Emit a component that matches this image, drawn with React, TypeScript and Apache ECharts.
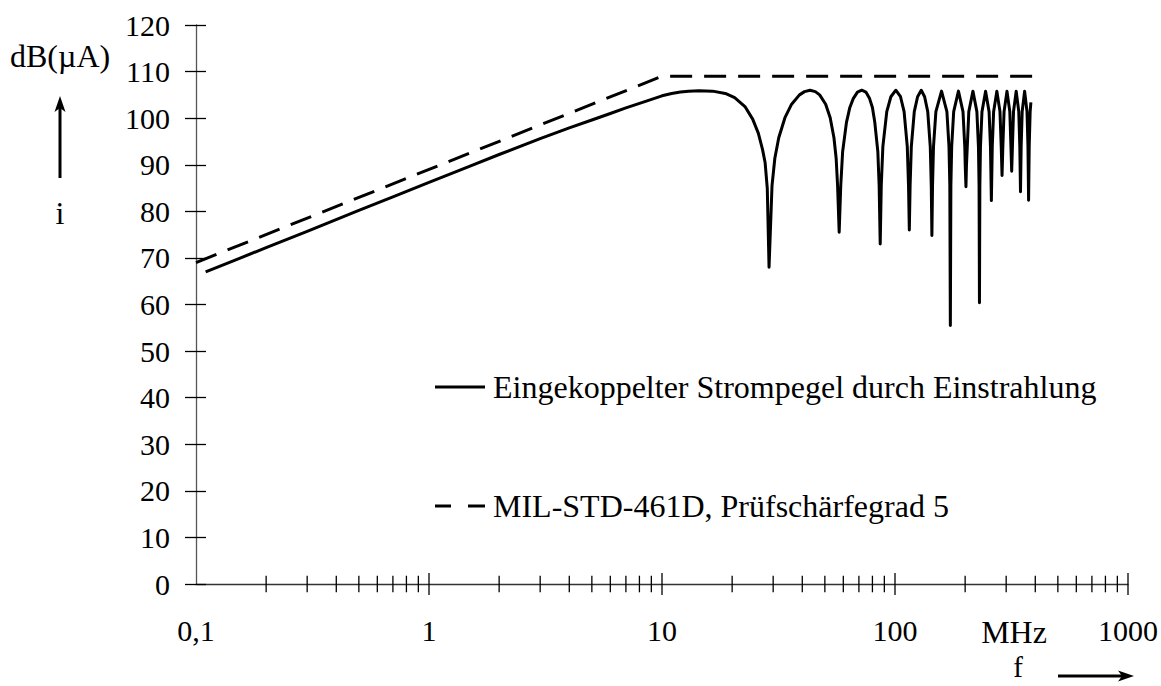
import React, { useEffect, useRef } from "react";
import * as echarts from "echarts";

// ---- data ----
const solidName = "Eingekoppelter Strompegel durch Einstrahlung";
const dashedName = "MIL-STD-461D, Prüfschärfegrad 5";

// frequency in MHz, level in dB(µA)
const solidData: [number, number][] = [
  [0.11, 67.0], [0.15, 69.7], [0.2, 72.2], [0.3, 75.7], [0.5, 80.2], [0.7, 83.1],
  [1, 86.2], [1.5, 89.7], [2, 92.2], [3, 95.6], [4, 97.9], [5, 99.6], [6, 101.0],
  [7, 102.2], [8.5, 103.6], [10, 104.8], [11, 105.3], [12, 105.6], [13, 105.8],
  [14.4, 105.9], [16.5, 105.8], [18.7, 105.3], [20.5, 104.4], [22.7, 102.5],
  [24.5, 99.8], [25.9, 96.8], [27, 93.3], [27.7, 90.5], [28.3, 85.0], [28.8, 68.0],
  // lobe 2
  [29.66, 85.5], [30.5, 91.4], [31.7, 95.8], [33.7, 100.1], [36.0, 103.0], [38.9, 105.0],
  [40.9, 105.7], [43.2, 106.0], [45.5, 105.7], [47.5, 105.0], [50.4, 103.0], [52.7, 100.1],
  [54.7, 95.8], [55.9, 91.4], [56.7, 85.5], [57.6, 75.5],
  // lobe 3
  [58.5, 85.5], [59.6, 92.8], [61.9, 99.1], [64.0, 102.3], [66.2, 104.2], [69.0, 105.6],
  [72.0, 106.0], [75.0, 105.6], [77.8, 104.2], [80.0, 102.3], [81.9, 99.1], [84.4, 92.8],
  [85.5, 85.5], [86.4, 73.0],
  // lobe 4
  [87.3, 85.5], [88.7, 93.9], [92.2, 101.4], [96.0, 104.6], [100.8, 106.0], [105.6, 104.6],
  [109.4, 101.4], [112.9, 93.9], [114.3, 85.5], [115.2, 76.0],
  // lobe 5
  [116.1, 85.5], [117.5, 93.9], [121.0, 101.4], [125.0, 104.6], [129.6, 106.0], [134.0, 104.6],
  [138.2, 101.4], [141.7, 93.9], [143.1, 85.5], [144.0, 74.8],
  // lobe 6
  [144.9, 85.5], [146.3, 93.9], [149.8, 101.4], [158.4, 105.8], [167.0, 101.4], [170.5, 93.9],
  [171.9, 85.5], [172.8, 55.5],
  // lobe 7
  [173.7, 85.5], [175.1, 93.9], [178.6, 101.4], [187.2, 105.8], [195.8, 101.4], [199.3, 93.9],
  [200.2, 89.8], [201.6, 85.3],
  // lobe 8
  [202.6, 89.8], [207.4, 101.4], [216.0, 105.8], [224.6, 101.4], [228.1, 93.9], [229.5, 85.5],
  [230.4, 60.4],
  // lobe 9
  [231.3, 85.5], [232.7, 93.9], [236.2, 101.4], [244.8, 105.8], [253.4, 101.4], [256.9, 93.9],
  [259.2, 82.3],
  // lobe 10
  [261.5, 93.9], [265.0, 101.4], [273.6, 105.8], [282.2, 101.4], [285.7, 93.9], [288.0, 87.7],
  // lobe 11
  [290.3, 93.9], [293.8, 101.4], [302.4, 105.8], [311.0, 101.4], [314.5, 93.9], [316.8, 88.6],
  // lobe 12
  [319.1, 93.9], [322.6, 101.4], [331.2, 105.8], [339.8, 101.4], [343.3, 93.9], [345.6, 84.2],
  // lobe 13
  [347.9, 93.9], [351.4, 101.4], [360.0, 105.8], [368.6, 101.4], [372.1, 93.9], [374.4, 82.4],
  // end
  [376.7, 93.9], [380.2, 101.4], [383.0, 103.4],
];

const dashedData: [number, number][] = [
  [0.1, 69], [10, 109], [400, 109],
];

const xMinorTicks = [
  0.2, 0.3, 0.4, 0.5, 0.6, 0.7, 0.8, 0.9,
  2, 3, 4, 5, 6, 7, 8, 9,
  20, 30, 40, 50, 60, 70, 80, 90,
  200, 300, 400, 500, 600, 700, 800, 900,
];
const xMajorTicks = [1, 10, 100, 1000];
const xUnitLabel = "MHz";
const yUnitLabel = "dB(µA)";
const ySymbol = "i";
const xSymbol = "f";

const FONT = '"Liberation Serif", "Times New Roman", serif';

export default function App() {
  const ref = useRef<HTMLDivElement>(null);

  useEffect(() => {
    if (!ref.current) return;
    const chart = echarts.init(ref.current, undefined, { renderer: "svg" });

    const tickSeries = (values: number[], half: number) => ({
      type: "custom",
      silent: true,
      clip: false,
      xAxisIndex: 0,
      yAxisIndex: 0,
      data: values.map((v) => [v, 0]),
      renderItem: (params: any, api: any) => {
        const p = api.coord([api.value(0), 0]);
        return {
          type: "line",
          shape: { x1: p[0], y1: p[1] - half, x2: p[0], y2: p[1] + half },
          style: { stroke: "#000", lineWidth: 1.3 },
        };
      },
      z: 3,
    });

    const legendBase = {
      left: 435,
      padding: 0,
      itemWidth: 50,
      itemHeight: 3,
      itemGap: 0,
      selectedMode: false,
      textStyle: { fontFamily: FONT, fontSize: 32, color: "#000", padding: [0, 0, 0, 3] },
    };

    const option: any = {
      animation: false,
      backgroundColor: "#fff",
      grid: { left: 196, right: 30, top: 25, bottom: 102 },
      xAxis: {
        type: "log",
        logBase: 10,
        min: 0.1,
        max: 1000,
        axisLine: { show: true, lineStyle: { color: "#333", width: 1.3 } },
        axisTick: { show: false },
        splitLine: { show: false },
        minorTick: { show: false },
        axisLabel: {
          show: true,
          margin: 31,
          color: "#000",
          fontFamily: FONT,
          fontSize: 30,
          showMinLabel: true,
          showMaxLabel: true,
          formatter: (v: number) => (v < 0.5 ? "0,1" : String(Math.round(v))),
        },
      },
      yAxis: [
        {
          type: "value",
          min: 0,
          max: 120,
          interval: 10,
          position: "left",
          offset: 0,
          axisLine: { show: true, lineStyle: { color: "#555", width: 1.3 } },
          axisTick: { show: true, inside: false, length: 11, lineStyle: { color: "#000", width: 1.3 } },
          splitLine: { show: false },
          axisLabel: { margin: 26, color: "#000", fontFamily: FONT, fontSize: 30 },
        },
        {
          type: "value",
          min: 0,
          max: 120,
          interval: 10,
          position: "left",
          offset: 0,
          axisLine: { show: false },
          axisTick: { show: true, inside: true, length: 10, lineStyle: { color: "#000", width: 1.3 } },
          splitLine: { show: false },
          axisLabel: { show: false },
        },
      ],
      legend: [
        {
          ...legendBase,
          top: 371,
          data: [{ name: solidName, icon: "path://M0,0H50V3H0Z" }],
        },
        {
          ...legendBase,
          top: 490,
          data: [{ name: dashedName, icon: "path://M0,0H16V3H0Z M33,0H50V3H33Z" }],
        },
      ],
      series: [
        {
          name: solidName,
          type: "line",
          data: solidData,
          showSymbol: false,
          symbol: "none",
          lineStyle: { color: "#000", width: 3, join: "round" },
          itemStyle: { color: "#000" },
          z: 5,
        },
        {
          name: dashedName,
          type: "line",
          data: dashedData,
          showSymbol: false,
          symbol: "none",
          lineStyle: { color: "#000", width: 3, type: [22, 12] },
          itemStyle: { color: "#000" },
          z: 4,
        },
        tickSeries(xMinorTicks, 8.3),
        tickSeries(xMajorTicks, 11),
      ],
      graphic: [
        {
          type: "text",
          left: 10,
          top: 40,
          style: { text: yUnitLabel, fontFamily: FONT, fontSize: 32, fill: "#000" },
        },
        {
          type: "line",
          shape: { x1: 60, y1: 178, x2: 60, y2: 108 },
          style: { stroke: "#000", lineWidth: 3 },
        },
        {
          type: "polygon",
          shape: { points: [[60, 96], [54.5, 112], [60, 108], [65.5, 112]] },
          style: { fill: "#000" },
        },
        {
          type: "text",
          x: 60,
          y: 213,
          style: {
            text: ySymbol, fontFamily: FONT, fontSize: 32, fill: "#000",
            align: "center", verticalAlign: "middle",
          },
        },
        {
          type: "text",
          x: 1014,
          y: 632,
          style: {
            text: xUnitLabel, fontFamily: FONT, fontSize: 32, fill: "#000",
            align: "center", verticalAlign: "middle",
          },
        },
        {
          type: "text",
          x: 1018,
          y: 667,
          style: {
            text: xSymbol, fontFamily: FONT, fontSize: 29, fill: "#000",
            align: "center", verticalAlign: "middle",
          },
        },
        {
          type: "line",
          shape: { x1: 1058, y1: 676, x2: 1122, y2: 676 },
          style: { stroke: "#000", lineWidth: 3 },
        },
        {
          type: "polygon",
          shape: { points: [[1134, 676], [1118, 670.5], [1122, 676], [1118, 681.5]] },
          style: { fill: "#000" },
        },
      ],
    };

    chart.setOption(option);
    return () => chart.dispose();
  }, []);

  return (
    <div
      ref={ref}
      style={{ position: "absolute", left: 0, top: 0, width: 1161, height: 686, background: "#fff" }}
    />
  );
}
